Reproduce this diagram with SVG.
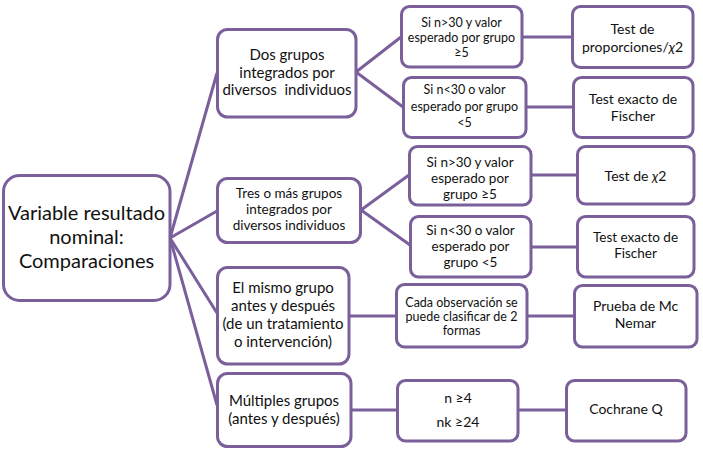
<svg xmlns="http://www.w3.org/2000/svg" width="703" height="451" viewBox="0 0 703 451">
<style>
.box{fill:#fff;stroke:#7b5f9b;stroke-width:3}
.ln{stroke:#7b5f9b;stroke-width:3;fill:none}
text{font-family:Lato,"Open Sans","Liberation Sans",sans-serif;fill:#111;text-anchor:middle}
.t21{font-size:20px}
.t15{font-size:15px}
.t14{font-size:14px}
.t13{font-size:13.5px}
.t12{font-size:12.5px}
</style>
<rect width="703" height="451" fill="#fff"/>
<g id="connectors">
<line class="ln" x1="170" y1="238" x2="217" y2="73"/>
<line class="ln" x1="170" y1="238" x2="217" y2="211"/>
<line class="ln" x1="170" y1="238" x2="217" y2="313"/>
<line class="ln" x1="170" y1="238" x2="217" y2="405"/>
<line class="ln" x1="356" y1="72" x2="401" y2="37"/>
<line class="ln" x1="356" y1="72" x2="403" y2="107"/>
<line class="ln" x1="522" y1="37" x2="572" y2="37"/>
<line class="ln" x1="526" y1="107" x2="573" y2="107"/>
<line class="ln" x1="361" y1="210" x2="409" y2="175"/>
<line class="ln" x1="361" y1="210" x2="410" y2="245"/>
<line class="ln" x1="531" y1="175" x2="577" y2="175"/>
<line class="ln" x1="531" y1="247" x2="577" y2="247"/>
<line class="ln" x1="349" y1="316" x2="396" y2="316"/>
<line class="ln" x1="527" y1="316" x2="574" y2="316"/>
<line class="ln" x1="351" y1="410" x2="397" y2="410"/>
<line class="ln" x1="518" y1="410" x2="566" y2="410"/>
</g>
<g id="root">
<rect class="box" x="3.5" y="175.5" width="166.5" height="125" rx="16"/>
<text class="t21" x="86.5" y="220">Variable resultado</text>
<text class="t21" x="86.5" y="244">nominal:</text>
<text class="t21" x="86.5" y="268">Comparaciones</text>
</g>
<g id="nodeA">
<rect class="box" x="217.5" y="29.5" width="138.5" height="87.5" rx="10"/>
<text class="t15" x="287" y="60">Dos grupos</text>
<text class="t15" x="287" y="78">integrados por</text>
<text class="t15" x="287" y="95" xml:space="preserve">diversos  individuos</text>
</g>
<g id="nodeB">
<rect class="box" x="217.5" y="178.5" width="143" height="64" rx="10"/>
<text class="t13" x="289" y="198">Tres o más grupos</text>
<text class="t13" x="289" y="214">integrados por</text>
<text class="t13" x="289" y="230">diversos individuos</text>
</g>
<g id="nodeC">
<rect class="box" x="217.5" y="267.5" width="131.5" height="96.5" rx="10"/>
<text class="t15" x="283" y="293">El mismo grupo</text>
<text class="t15" x="283" y="311">antes y después</text>
<text class="t15" x="283" y="329">(de un tratamiento</text>
<text class="t15" x="283" y="347">o intervención)</text>
</g>
<g id="nodeD">
<rect class="box" x="217.5" y="373.5" width="133.5" height="73" rx="10"/>
<text class="t15" x="284" y="406">Múltiples grupos</text>
<text class="t15" x="284" y="424">(antes y después)</text>
</g>
<g id="nodeA1">
<rect class="box" x="401.5" y="6.5" width="120.5" height="60.5" rx="8"/>
<text class="t12" x="461.5" y="27">Si n&gt;30 y valor</text>
<text class="t12" x="461.5" y="42">esperado por grupo</text>
<text class="t12" x="461.5" y="57">≥5</text>
</g>
<g id="nodeA2">
<rect class="box" x="403.5" y="77.5" width="122.5" height="60" rx="8"/>
<text class="t12" x="464.5" y="94">Si n&lt;30 o valor</text>
<text class="t12" x="464.5" y="111">esperado por grupo</text>
<text class="t12" x="464.5" y="127">&lt;5</text>
</g>
<g id="nodeA1r">
<rect class="box" x="572.5" y="6.5" width="120.5" height="61" rx="8"/>
<text class="t14" x="632.5" y="34">Test de</text>
<text class="t14" x="632.5" y="52">proporciones/<tspan font-style="italic">χ</tspan>2</text>
</g>
<g id="nodeA2r">
<rect class="box" x="573.5" y="77.5" width="119.5" height="60" rx="8"/>
<text class="t14" x="633" y="104">Test exacto de</text>
<text class="t14" x="633" y="121">Fischer</text>
</g>
<g id="nodeB1">
<rect class="box" x="409.5" y="146.5" width="121.5" height="58.5" rx="8"/>
<text class="t13" x="470" y="167">Si n&gt;30 y valor</text>
<text class="t13" x="470" y="183">esperado por</text>
<text class="t13" x="470" y="199">grupo ≥5</text>
</g>
<g id="nodeB2">
<rect class="box" x="410.5" y="216.5" width="120.5" height="60.5" rx="8"/>
<text class="t13" x="470.5" y="235">Si n&lt;30 o valor</text>
<text class="t13" x="470.5" y="251">esperado por</text>
<text class="t13" x="470.5" y="267">grupo &lt;5</text>
</g>
<g id="nodeB1r">
<rect class="box" x="577.5" y="146.5" width="116.5" height="57.5" rx="8"/>
<text class="t14" x="635.5" y="181">Test de <tspan font-style="italic">χ</tspan>2</text>
</g>
<g id="nodeB2r">
<rect class="box" x="577.5" y="216.5" width="116.5" height="60.5" rx="8"/>
<text class="t13" x="635.5" y="242">Test exacto de</text>
<text class="t13" x="635.5" y="258">Fischer</text>
</g>
<g id="nodeC1">
<rect class="box" x="396.5" y="284.5" width="130.5" height="62.5" rx="8"/>
<text class="t12" x="461.5" y="307">Cada observación se</text>
<text class="t12" x="461.5" y="321">puede clasificar de 2</text>
<text class="t12" x="461.5" y="335">formas</text>
</g>
<g id="nodeCr">
<rect class="box" x="574.5" y="285.5" width="122.5" height="61.5" rx="8"/>
<text class="t14" x="635.5" y="311">Prueba de Mc</text>
<text class="t14" x="635.5" y="328">Nemar</text>
</g>
<g id="nodeD1">
<rect class="box" x="397.5" y="380.5" width="120.5" height="60.5" rx="8"/>
<text class="t14" x="458" y="403">n ≥4</text>
<text class="t14" x="458" y="427">nk ≥24</text>
</g>
<g id="nodeDr">
<rect class="box" x="566.5" y="380.5" width="119.5" height="60.5" rx="8"/>
<text class="t14" x="626" y="414">Cochrane Q</text>
</g>
</svg>
